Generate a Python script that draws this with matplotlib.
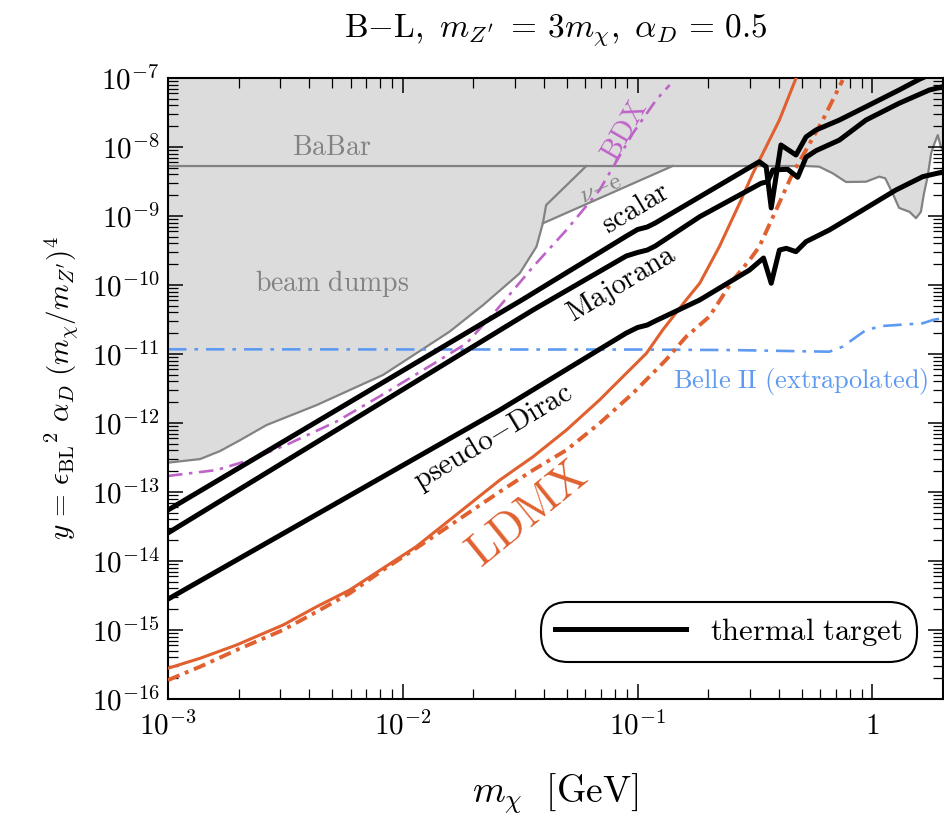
import numpy as np
import matplotlib
matplotlib.use("Agg")
import matplotlib.pyplot as plt
from matplotlib.ticker import LogLocator, NullFormatter

# ---- data (m_chi in GeV, y dimensionless) ----
babar_m = [1e-3, 0.522, 0.594, 0.678, 0.773, 0.94, 1.07, 1.135, 1.22, 1.30,
           1.44, 1.535, 1.61, 1.66, 1.72, 1.78, 1.84, 1.90, 1.96, 2.0]
babar_y = [5.3e-9, 5.3e-9, 5.19e-9, 4.16e-9, 3.11e-9, 3.14e-9, 3.72e-9, 3.52e-9,
           2.13e-9, 1.31e-9, 1.15e-9, 9.3e-10, 1.15e-9, 2.13e-9, 3.72e-9,
           8.1e-9, 1.13e-8, 1.49e-8, 1.0e-8, 9.0e-9]

beamdump_m = [1e-3, 1.37e-3, 1.66e-3, 2.02e-3, 2.63e-3, 4.30e-3, 5.94e-3,
              8.24e-3, 1.14e-2, 1.58e-2, 2.20e-2, 3.15e-2, 3.71e-2, 3.95e-2,
              4.08e-2, 6.05e-2]
beamdump_y = [2.66e-13, 3.0e-13, 3.9e-13, 5.6e-13, 9.35e-13, 1.82e-12, 3.0e-12,
              4.97e-12, 1.02e-11, 2.10e-11, 5.13e-11, 1.48e-10, 3.59e-10,
              7.83e-10, 1.44e-9, 5.3e-9]

nue_m = [3.95e-2, 0.141]
nue_y = [7.83e-10, 5.3e-9]

scalar_m = [1e-3, 3.25e-2, 8.95e-2, 0.100, 0.110, 0.119, 0.330, 0.353, 0.371,
            0.408, 0.473, 0.522, 0.575, 0.724, 0.94, 1.30, 1.585, 1.87]
scalar_y = [5.48e-14, 6.2e-11, 5.1e-10, 6.37e-10, 6.93e-10, 7.92e-10, 6.12e-9,
            5.18e-9, 1.31e-9, 1.07e-8, 7.66e-9, 1.40e-8, 1.76e-8, 2.46e-8,
            3.84e-8, 6.70e-8, 9.57e-8, 1.23e-7]

majorana_m = [1e-3, 3.59e-2, 8.95e-2, 0.100, 0.110, 0.119, 0.184, 0.336, 0.358,
              0.377, 0.436, 0.481, 0.522, 0.575, 0.724, 0.94, 1.30, 1.75, 2.0]
majorana_y = [2.55e-14, 4.35e-11, 2.63e-10, 2.96e-10, 3.21e-10, 3.67e-10,
              9.77e-10, 2.98e-9, 3.14e-9, 4.65e-9, 4.75e-9, 3.64e-9, 7.10e-9,
              8.83e-9, 1.26e-8, 2.46e-8, 4.30e-8, 6.70e-8, 7.48e-8]

pdirac_m = [1e-3, 2.59e-2, 8.95e-2, 0.100, 0.110, 0.119, 0.184, 0.300, 0.330,
            0.344, 0.371, 0.402, 0.430, 0.473, 0.522, 0.656, 0.91, 1.26, 1.64,
            2.0]
pdirac_y = [2.8e-15, 1.54e-12, 2.01e-11, 2.42e-11, 2.63e-11, 3.01e-11, 6.07e-11,
            1.65e-10, 2.18e-10, 2.46e-10, 1.06e-10, 3.21e-10, 3.40e-10,
            3.04e-10, 4.25e-10, 6.27e-10, 1.22e-9, 2.38e-9, 3.72e-9, 4.35e-9]

ldmx_m = [1e-3, 1.37e-3, 1.96e-3, 3.09e-3, 4.30e-3, 5.94e-3, 8.24e-3, 1.14e-2,
          2.59e-2, 3.59e-2, 4.98e-2, 6.89e-2, 8.95e-2, 0.109, 0.128, 0.161,
          0.184, 0.223, 0.272, 0.310, 0.353, 0.402, 0.473]
ldmx_y = [2.79e-16, 3.89e-16, 6.07e-16, 1.18e-15, 2.18e-15, 3.80e-15, 7.84e-15,
          1.61e-14, 1.49e-13, 3.25e-13, 7.92e-13, 2.16e-12, 5.25e-12, 1.02e-11,
          2.23e-11, 6.07e-11, 1.06e-10, 3.59e-10, 1.53e-9, 4.16e-9, 1.01e-8,
          2.46e-8, 9.9e-8]

ldmx_dd_m = [1e-3, 1.37e-3, 1.96e-3, 3.09e-3, 4.30e-3, 5.94e-3, 8.24e-3,
             1.14e-2, 2.59e-2, 3.59e-2, 4.98e-2, 6.89e-2, 9.55e-2, 0.132, 0.161,
             0.202, 0.255, 0.300, 0.330, 0.389, 0.458, 0.522, 0.615, 0.748]
ldmx_dd_y = [1.88e-16, 2.94e-16, 5.13e-16, 1.0e-15, 1.84e-15, 3.40e-15,
             7.41e-15, 1.53e-14, 1.01e-13, 2.08e-13, 4.06e-13, 9.9e-13, 2.69e-12,
             8.18e-12, 1.78e-11, 3.47e-11, 1.18e-10, 2.30e-10, 3.59e-10, 1.22e-9,
             4.16e-9, 9.05e-9, 2.46e-8, 9.35e-8]

bdx_m = [1e-3, 1.61e-3, 2.23e-3, 3.30e-3, 5.22e-3, 8.24e-3, 1.35e-2, 1.87e-2,
         2.51e-2, 3.59e-2, 4.98e-2, 6.89e-2, 9.55e-2, 0.120, 0.137]
bdx_y = [1.71e-13, 2.08e-13, 2.91e-13, 5.08e-13, 1.05e-12, 2.6e-12, 7.2e-12,
         1.43e-11, 4.35e-11, 1.84e-10, 6.27e-10, 2.38e-9, 1.58e-8, 4.80e-8,
         7.92e-8]

belle_m = [1e-3, 0.1, 0.255, 0.656, 0.748, 0.94, 1.11, 1.64, 1.81, 2.0]
belle_y = [1.17e-11, 1.16e-11, 1.14e-11, 1.08e-11, 1.28e-11, 2.23e-11,
           2.55e-11, 2.79e-11, 3.11e-11, 3.33e-11]

x_ticks = [1e-3, 1e-2, 1e-1, 1]
x_ticklabels = [r"$10^{-3}$", r"$10^{-2}$", r"$10^{-1}$", r"$1$"]
y_ticks = [10.0 ** (-k) for k in range(16, 6, -1)]
y_ticklabels = [r"$10^{-%d}$" % k for k in range(16, 6, -1)]

ORANGE = "#e0602f"
PURPLE = "#bf63c9"
BLUE = "#5e9af0"
GRAY = "#828282"
FILL = "#dcdcdc"


def main():
    plt.rcParams["mathtext.fontset"] = "cm"
    plt.rcParams["font.family"] = "serif"

    fig = plt.figure(figsize=(9.44, 8.25), dpi=100)
    ax = fig.add_axes([168 / 944, 1 - 699 / 825, 775 / 944, 621 / 825])
    ax.set_xscale("log")
    ax.set_yscale("log")

    # excluded region: lower envelope of beam dumps, nu-e, BaBar
    n_bd = beamdump_m.index(nue_m[0]) + 1
    env_m = beamdump_m[:n_bd] + [nue_m[1]] + babar_m[1:]
    env_y = beamdump_y[:n_bd] + [nue_y[1]] + babar_y[1:]
    poly_m = env_m + [env_m[-1], env_m[0]]
    poly_y = env_y + [1e-7, 1e-7]
    ax.fill(poly_m, poly_y, color=FILL, lw=0, zorder=0)
    ax.plot(babar_m, babar_y, color=GRAY, lw=1.6, zorder=1)
    ax.plot(beamdump_m, beamdump_y, color=GRAY, lw=1.6, zorder=1)
    ax.plot(nue_m, nue_y, color=GRAY, lw=1.6, zorder=1)

    # projections
    ax.plot(belle_m, belle_y, color=BLUE, lw=1.9,
            linestyle=(0, (7, 3, 1.4, 3)), zorder=2)
    ax.plot(bdx_m, bdx_y, color=PURPLE, lw=1.9,
            linestyle=(0, (5.5, 2.5, 1.3, 2.5)), zorder=2)
    ax.plot(ldmx_m, ldmx_y, color=ORANGE, lw=2.2, zorder=3)
    ax.plot(ldmx_dd_m, ldmx_dd_y, color=ORANGE, lw=2.8,
            linestyle=(0, (3.2, 1.5, 1.0, 1.5)), zorder=3)

    # thermal targets
    ax.plot(scalar_m, scalar_y, color="black", lw=3.6, zorder=4,
            solid_joinstyle="round", label=r"$\mathrm{thermal\ target}$")
    ax.plot(majorana_m, majorana_y, color="black", lw=3.6, zorder=4,
            solid_joinstyle="round")
    ax.plot(pdirac_m, pdirac_y, color="black", lw=3.6, zorder=4,
            solid_joinstyle="round")

    ax.set_xlim(1e-3, 2)
    ax.set_ylim(1e-16, 1e-7)

    # labels inside the plot
    ax.text(4.98e-3, 9.9e-9, r"$\mathrm{BaBar}$", color=GRAY, fontsize=20,
            ha="center", va="center")
    ax.text(4.98e-3, 1.06e-10, r"$\mathrm{beam\ dumps}$", color=GRAY,
            fontsize=20, ha="center", va="center")
    ax.text(7.0e-2, 2.52e-9, r"$\nu\mathrm{-e}$", color=GRAY, fontsize=18,
            ha="center", va="center", rotation=23, rotation_mode="anchor")
    ax.text(8.8e-2, 1.76e-8, r"$\mathrm{BDX}$", color=PURPLE, fontsize=21,
            ha="center", va="center", rotation=60, rotation_mode="anchor")
    ax.text(9.86e-2, 1.29e-9, r"$\mathrm{scalar}$", color="black",
            fontsize=21, ha="center", va="center", rotation=31,
            rotation_mode="anchor")
    ax.text(8.6e-2, 1.03e-10, r"$\mathrm{Majorana}$", color="black",
            fontsize=21, ha="center", va="center", rotation=31,
            rotation_mode="anchor")
    ax.text(2.43e-2, 6.3e-13, r"$\mathrm{pseudo{-}Dirac}$", color="black",
            fontsize=21, ha="center", va="center", rotation=31,
            rotation_mode="anchor")
    ax.text(3.4e-2, 4.7e-14, r"$\mathrm{LDMX}$", color=ORANGE, fontsize=33,
            ha="center", va="center", rotation=39, rotation_mode="anchor")
    ax.text(0.497, 3.97e-12, r"$\mathrm{Belle\ II\ (extrapolated)}$",
            color=BLUE, fontsize=19, ha="center", va="center")

    # axes cosmetics
    ax.set_xticks(x_ticks)
    ax.set_xticklabels(x_ticklabels)
    ax.set_yticks(y_ticks)
    ax.set_yticklabels(y_ticklabels)
    ax.xaxis.set_minor_locator(LogLocator(base=10, subs=np.arange(2, 10),
                                          numticks=30))
    ax.yaxis.set_minor_locator(LogLocator(base=10, subs=np.arange(2, 10),
                                          numticks=30))
    ax.xaxis.set_minor_formatter(NullFormatter())
    ax.yaxis.set_minor_formatter(NullFormatter())
    ax.tick_params(which="both", direction="in", top=True, right=True,
                   labelsize=21)
    ax.tick_params(which="major", length=11, width=1.1)
    ax.tick_params(which="minor", length=7, width=0.9)
    ax.tick_params(axis="x", pad=9)
    ax.tick_params(axis="y", pad=6)
    for sp in ax.spines.values():
        sp.set_linewidth(1.5)

    ax.set_xlabel(r"$m_\chi\ \ [\mathrm{GeV}]$", fontsize=27, labelpad=22)
    ax.set_ylabel(r"$y\,=\,{\epsilon_{\mathrm{BL}}}^{2}\ \alpha_D\ "
                  r"(m_\chi/m_{Z^{\prime}})^4$", fontsize=21, labelpad=8)
    ax.set_title(r"$\mathrm{B{-}L},\ m_{Z^{\prime}}\ =\,3m_\chi,\ "
                 r"\alpha_D\,=\,0.5$", fontsize=24, pad=30)

    leg = ax.legend(loc="lower right", bbox_to_anchor=(0.966, 0.06),
                    borderaxespad=0, fontsize=22, handlelength=4.3,
                    handletextpad=0.8, fancybox=True, framealpha=1,
                    edgecolor="black", borderpad=0.45)
    leg.get_frame().set_linewidth(1.5)
    leg.get_frame().set_boxstyle("round,pad=0,rounding_size=0.9")

    fig.savefig("out.png", dpi=100)


if __name__ == "__main__":
    main()
